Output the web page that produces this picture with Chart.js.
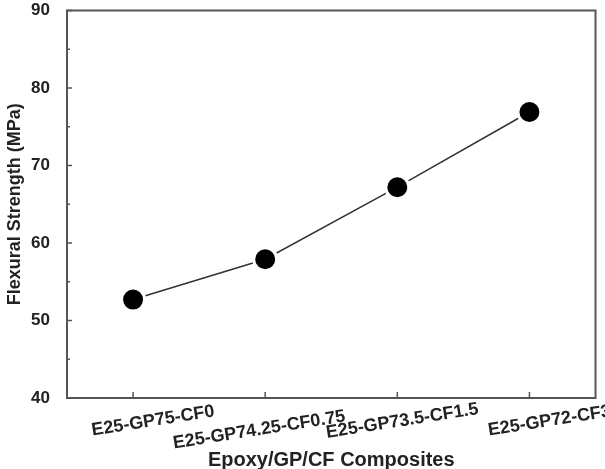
<!DOCTYPE html>
<html>
<head>
<meta charset="utf-8">
<script src="https://cdn.jsdelivr.net/npm/chart.js@4/dist/chart.umd.min.js"></script>
<style>
  html, body { margin: 0; padding: 0; background: #fff; overflow: hidden; }
  #wrap { width: 605px; height: 469px; overflow: hidden; }
  /* canvas a little larger so the point overflow padding falls outside the view */
  #flexChart { display: block; margin-top: -4px; }
</style>
</head>
<body>
<div id="wrap"><canvas id="flexChart" width="610" height="473"></canvas></div>
<script>
// Data
const categories = ['E25-GP75-CF0', 'E25-GP74.25-CF0.75', 'E25-GP73.5-CF1.5', 'E25-GP72-CF3'];
const strength = [52.7, 57.9, 67.2, 76.9];
const yTicks = [40, 50, 60, 70, 80, 90];

// Frame, inward ticks and staggered category labels like the original plot
const framePlugin = {
    id: 'frame',
    afterDraw(chart) {
        const ctx = chart.ctx;
        const area = chart.chartArea;
        const xs = chart.scales.x;
        const ys = chart.scales.y;
        ctx.save();
        ctx.strokeStyle = '#555';
        ctx.lineWidth = 2;
        ctx.strokeRect(area.left, area.top, area.right - area.left, area.bottom - area.top);

        ctx.lineWidth = 1.5;
        ctx.beginPath();
        // y major + minor ticks (inward)
        for (let v = yTicks[0]; v <= yTicks[yTicks.length - 1]; v += 5) {
            const y = ys.getPixelForValue(v);
            const len = (v % 10 === 0) ? 5 : 3;
            ctx.moveTo(area.left, y);
            ctx.lineTo(area.left + len, y);
        }
        // x ticks (inward)
        categories.forEach(function(c, i) {
            const x = xs.getPixelForTick(i);
            ctx.moveTo(x, area.bottom);
            ctx.lineTo(x, area.bottom - 6);
        });
        ctx.stroke();

        // category labels, slightly rotated and staggered
        const dx = [20, -6, 5, 20];
        const dy = [23, 32, 23, 23];
        ctx.fillStyle = '#222';
        ctx.font = 'bold 18px "Liberation Sans", Arial, sans-serif';
        ctx.textAlign = 'center';
        ctx.textBaseline = 'middle';
        categories.forEach(function(c, i) {
            const x = xs.getPixelForTick(i) + dx[i];
            ctx.save();
            ctx.translate(x, area.bottom + dy[i]);
            ctx.rotate(-9 * Math.PI / 180);
            ctx.fillText(c, 0, 0);
            ctx.restore();
        });

        // x axis title
        ctx.font = 'bold 20px "Liberation Sans", Arial, sans-serif';
        ctx.fillText('Epoxy/GP/CF Composites', (area.left + area.right) / 2, area.bottom + 62);
        ctx.restore();
    }
};

const ctx = document.getElementById('flexChart').getContext('2d');
const flexChart = new Chart(ctx, {
    type: 'line',
    data: {
        labels: categories,
        datasets: [{
            label: 'Flexural Strength',
            data: strength,
            borderColor: '#333',
            borderWidth: 1.5,
            pointRadius: 11.5,
            pointHoverRadius: 11.5,
            pointBackgroundColor: '#000',
            pointBorderColor: '#fff',
            pointBorderWidth: 3,
            tension: 0,
            clip: false
        }]
    },
    options: {
        responsive: false,
        animation: false,
        layout: {
            padding: { top: 6, right: 5, left: 0, bottom: 0 }
        },
        plugins: {
            legend: { display: false },
            tooltip: { enabled: false }
        },
        scales: {
            x: {
                offset: true,
                grid: { display: false },
                border: { display: false },
                ticks: { display: false },
                afterFit: function(scale) {
                    scale.height = 71;
                    scale.paddingLeft = 0;
                    scale.paddingRight = 0;
                }
            },
            y: {
                min: 40,
                max: 90,
                grid: { display: false },
                border: { display: false },
                ticks: {
                    stepSize: 10,
                    padding: 9,
                    color: '#222',
                    font: { family: '"Liberation Sans", Arial, sans-serif', size: 17, weight: 'bold' }
                },
                title: {
                    display: true,
                    text: 'Flexural Strength (MPa)',
                    color: '#222',
                    padding: { top: 4, bottom: 0 },
                    font: { family: '"Liberation Sans", Arial, sans-serif', size: 18, weight: 'bold' }
                },
                afterFit: function(scale) {
                    scale.width = 67;
                    scale.paddingTop = 0;
                    scale.paddingBottom = 0;
                }
            }
        }
    },
    plugins: [framePlugin]
});
</script>
</body>
</html>
